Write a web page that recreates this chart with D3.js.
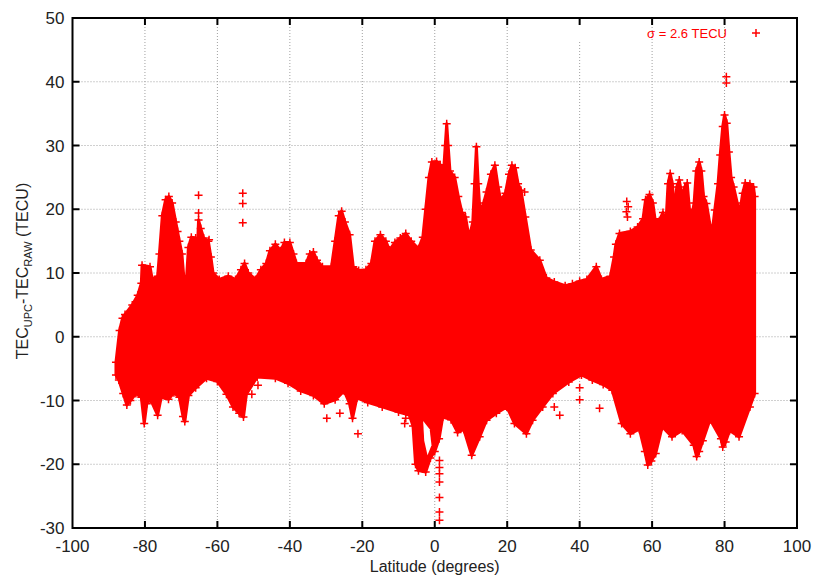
<!DOCTYPE html>
<html lang="en">
<head>
<meta charset="UTF-8">
<title>TEC UPC - TEC RAW vs latitude</title>
<script src="https://d3js.org/d3.v7.min.js"></script>
<style>
    body { margin: 0; background: #fff; }
    svg text { font-family: "Liberation Sans", Arial, Helvetica, sans-serif; }
</style>
</head>
<body>
<svg id="canvas" width="813" height="578"></svg>
<script>
// ---- data ----
const xTickValues = [-100, -80, -60, -40, -20, 0, 20, 40, 60, 80, 100];
const yTickValues = [-30, -20, -10, 0, 10, 20, 30, 40, 50];
const legendLabel = "\u03c3 = 2.6 TECU";

// upper edge of the dense cloud of points (latitude, TECU)
const upperLat = [-88.0, -87.0, -86.2, -85.5, -83.5, -82.0, -81.0, -80.8, -78.6, -78.0, -76.5, -76.0, -75.2, -74.3, -73.4,
    -72.5, -71.5, -71.0, -70.5, -69.8, -69.3, -68.5, -68.0, -67.2, -66.0, -65.5, -65.2, -64.6, -63.8, -62.5, -61.8, -61.2,
    -59.5, -57.0, -55.0, -53.5, -52.5, -51.5, -49.5, -48.0, -46.5, -45.5, -44.0, -42.5, -41.5, -40.0, -39.0, -38.2, -35.5,
    -34.5, -33.5, -32.5, -31.0, -28.5, -27.5, -26.5, -25.7, -24.8, -23.5, -22.5, -21.0, -19.0, -17.5, -16.5, -15.0, -13.5,
    -12.5, -11.0, -9.5, -8.0, -6.5, -4.5, -3.3, -2.5, -1.6, -0.8, 0.5, 1.5, 2.5, 2.9, 3.3, 3.7, 4.2, 5.5, 6.5, 7.5, 8.5,
    9.5, 10.5, 11.0, 11.5, 12.0, 12.5, 13.5, 14.3, 15.5, 16.6, 17.5, 18.2, 19.5, 20.5, 21.3, 22.2, 23.0, 23.8, 25.0, 26.5,
    29.0, 30.8, 33.0, 36.0, 38.0, 40.0, 42.0, 44.6, 46.0, 48.5, 49.5, 50.0, 51.0, 54.0, 56.0, 57.5, 58.2, 59.3, 60.2, 60.8,
    62.0, 63.0, 63.8, 64.4, 65.0, 65.6, 66.2, 66.8, 67.5, 68.3, 69.0, 69.7, 70.3, 71.0, 71.6, 72.2, 73.0, 73.6, 74.2, 75.0,
    76.0, 76.7, 77.3, 78.2, 78.8, 79.5, 80.0, 80.6, 81.2, 81.8, 82.5, 83.5, 84.2, 85.0, 85.7, 87.0, 88.0, 88.3];
const upperVal = [-4.0, 1.0, 2.9, 3.5, 5.0, 6.5, 8.4, 11.2, 11.0, 9.0, 9.5, 13.0, 19.0, 21.5, 22.0,
    21.0, 18.0, 16.5, 15.0, 13.0, 9.5, 9.3, 14.0, 15.6, 15.5, 14.0, 18.3, 17.0, 15.5, 15.0, 12.5, 10.0,
    9.0, 9.5, 9.0, 10.5, 11.5, 10.0, 9.0, 10.5, 11.5, 13.5, 14.5, 13.5, 14.8, 14.8, 13.0, 11.5, 11.5,
    13.0, 13.3, 12.0, 11.0, 11.0, 15.0, 19.0, 19.7, 18.0, 16.0, 11.0, 10.4, 10.5, 11.5, 15.0, 16.0, 15.0,
    13.6, 14.8, 15.5, 16.2, 15.0, 13.8, 15.6, 20.0, 25.0, 27.4, 27.5, 27.0, 26.5, 30.0, 33.4, 30.0, 26.0, 25.0, 22.0, 19.5, 18.8,
    15.5, 18.0, 24.0, 29.8, 24.0, 19.5, 21.0, 22.7, 25.5, 26.9, 23.5, 21.4, 22.5, 25.5, 26.9, 26.5, 24.0, 23.0, 18.8, 13.6,
    12.0, 9.2, 8.6, 8.0, 8.3, 8.7, 9.0, 11.0, 9.0, 9.5, 12.5, 14.5, 16.2, 16.5, 17.2, 18.5, 21.5, 22.3, 21.0, 18.5,
    18.2, 19.5, 17.5, 24.0, 25.6, 24.0, 19.5, 23.5, 24.6, 22.0, 23.5, 24.1, 20.0, 19.0, 21.0, 26.0, 27.4, 26.0, 22.0, 20.9,
    17.5, 17.0, 19.9, 24.0, 28.5, 33.0, 34.8, 33.5, 29.0, 25.0, 23.5, 21.0, 19.5, 22.5, 24.1, 24.0, 23.5, 22.0];

// lower edge of the cloud
const lowerLat = [-88.0, -87.2, -86.0, -85.0, -84.0, -82.5, -81.0, -80.2, -79.5, -78.5, -76.5, -75.5, -73.5, -72.0, -70.5,
    -69.5, -69.0, -68.0, -66.0, -63.0, -60.0, -57.5, -55.7, -54.0, -52.8, -52.0, -49.0, -44.0, -40.5, -37.0, -33.5, -30.5,
    -27.5, -25.0, -23.5, -22.7, -21.5, -18.5, -14.5, -10.0, -7.0, -6.0, -5.3, -4.5, -2.5, -1.2, 0.0, 1.2, 2.2, 4.5, 6.3,
    8.0, 10.2, 12.4, 14.3, 17.0, 19.9, 22.0, 25.3, 27.0, 29.8, 32.6, 37.0, 40.5, 43.5, 46.5, 49.0, 51.6, 54.0, 56.5, 58.0,
    58.8, 59.8, 61.0, 62.8, 65.5, 68.3, 71.5, 72.3, 73.0, 74.0, 76.0, 79.0, 79.5, 80.3, 81.4, 84.0, 87.0, 88.3];
const lowerVal = [-6.0, -6.8, -8.9, -10.7, -10.0, -8.9, -9.5, -13.6, -10.5, -9.8, -12.3, -9.5, -9.8, -8.8, -9.5,
    -12.5, -13.3, -9.2, -8.0, -6.5, -7.0, -9.0, -11.0, -12.0, -12.6, -9.0, -6.3, -6.5, -7.3, -8.5, -9.2, -10.5,
    -9.9, -8.5, -10.5, -12.8, -9.6, -10.3, -11.0, -11.8, -12.3, -14.0, -20.0, -21.0, -21.2, -19.0, -18.0, -16.0, -12.6, -13.0, -15.0,
    -14.5, -18.6, -15.7, -13.1, -12.0, -11.0, -13.6, -15.2, -13.1, -11.0, -8.9, -7.1, -6.0, -6.8, -7.5, -8.4, -13.6, -15.2, -14.5, -18.0,
    -20.1, -19.5, -18.3, -14.1, -15.7, -14.7, -17.0, -18.8, -18.0, -16.3, -13.0, -16.0, -17.3, -16.5, -14.7, -15.7, -11.0, -8.9];

// white gap inside the cloud near the equator
const holeLat = [-3.2, -1.4, -0.9, -2.0, -2.9];
const holeVal = [-13.2, -14.5, -17.0, -18.6, -16.3];

// isolated points outside the cloud
const outlierLat = [-65.2, -65.2, -62.3, -53.0, -53.0, -53.0, 24.8, 80.5, 80.5, 53.0, 53.4, 52.9, 53.2,
    -50.5, -48.8, -29.8, -26.2, -21.2, -8.3, -8.0,
    1.3, 1.3, 1.3, 1.3, 1.3, 1.3, 1.3, 33.0, 34.5, 40.0, 40.0, 45.5];
const outlierVal = [22.2, 19.4, 15.2, 22.5, 20.9, 17.9, 22.7, 40.8, 39.8, 21.2, 20.4, 19.6, 18.8,
    -9.0, -7.6, -12.8, -12.0, -15.2, -13.6, -12.8,
    -19.4, -20.5, -21.5, -22.8, -25.2, -27.5, -28.8, -11.0, -12.3, -8.0, -9.9, -11.2];

// ---- layout ----
const width = 813, height = 578;
const margin = {top: 18, right: 16, bottom: 50, left: 72.5};
const red = "#ff0000";

const svg = d3.select("#canvas");

const x = d3.scaleLinear().domain([-100, 100]).range([margin.left, width - margin.right]);
const y = d3.scaleLinear().domain([-30, 50]).range([height - margin.bottom, margin.top]);

// grid
const grid = svg.append("g").attr("stroke", "#a0a0a0").attr("stroke-width", 1).attr("stroke-dasharray", "1,2");
grid.selectAll("line.vx").data(xTickValues.slice(1, -1)).enter().append("line")
    .attr("x1", d => x(d)).attr("x2", d => x(d))
    .attr("y1", d => d === 40 ? 42 : y(50)).attr("y2", y(-30));
grid.selectAll("line.hy").data(yTickValues.slice(1, -1)).enter().append("line")
    .attr("x1", x(-100)).attr("x2", x(100))
    .attr("y1", d => y(d)).attr("y2", d => y(d));

// cloud of points
const pts = upperLat.map((d, i) => [d, upperVal[i]])
    .concat(lowerLat.map((d, i) => [d, lowerVal[i]]).reverse());
const line = d3.line().x(d => x(d[0])).y(d => y(d[1])).curve(d3.curveLinearClosed);
svg.append("path").attr("d", line(pts)).attr("fill", red).attr("stroke", red).attr("stroke-width", 3)
    .attr("stroke-linejoin", "round");

const hole = holeLat.map((d, i) => [d, holeVal[i]]);
svg.append("path").attr("d", line(hole)).attr("fill", "#fff");

// plus markers on the edges and outliers
const cross = "M-4,0H4M0,-4V4";
const markers = pts.concat(outlierLat.map((d, i) => [d, outlierVal[i]]));
svg.append("g").selectAll("path").data(markers).enter().append("path")
    .attr("d", cross)
    .attr("transform", d => `translate(${x(d[0])},${y(d[1])})`)
    .attr("stroke", red).attr("stroke-width", 1.5).attr("fill", "none");

// axes: border, ticks on all sides
const ax = svg.append("g");
const tickLen = 7;
ax.selectAll("line.bt").data(xTickValues.slice(1, -1)).enter().append("line")
    .attr("x1", d => x(d)).attr("x2", d => x(d))
    .attr("y1", y(-30)).attr("y2", y(-30) - tickLen);
ax.selectAll("line.tt").data(xTickValues.slice(1, -1)).enter().append("line")
    .attr("x1", d => x(d)).attr("x2", d => x(d))
    .attr("y1", y(50)).attr("y2", y(50) + tickLen);
ax.selectAll("line.lt").data(yTickValues.slice(1, -1)).enter().append("line")
    .attr("x1", x(-100)).attr("x2", x(-100) + tickLen)
    .attr("y1", d => y(d)).attr("y2", d => y(d));
ax.selectAll("line.rt").data(yTickValues.slice(1, -1)).enter().append("line")
    .attr("x1", x(100)).attr("x2", x(100) - tickLen)
    .attr("y1", d => y(d)).attr("y2", d => y(d));
ax.selectAll("line").attr("stroke", "#000").attr("stroke-width", 2);
ax.append("rect")
    .attr("x", x(-100)).attr("y", y(50))
    .attr("width", x(100) - x(-100)).attr("height", y(-30) - y(50))
    .attr("fill", "none").attr("stroke", "#000").attr("stroke-width", 2);

// tick labels
svg.append("g").selectAll("text").data(xTickValues).enter().append("text")
    .attr("x", d => x(d)).attr("y", y(-30) + 24)
    .attr("text-anchor", "middle").attr("font-size", 17).attr("fill", "#222")
    .text(d => d);
svg.append("g").selectAll("text").data(yTickValues).enter().append("text")
    .attr("x", x(-100) - 8).attr("y", d => y(d) + 6)
    .attr("text-anchor", "end").attr("font-size", 17).attr("fill", "#222")
    .text(d => d);

// axis titles
svg.append("text")
    .attr("x", x(0)).attr("y", 572)
    .attr("text-anchor", "middle").attr("font-size", 16).attr("fill", "#222")
    .text("Latitude (degrees)");

const yl = svg.append("text")
    .attr("transform", "translate(28,271) rotate(-90)")
    .attr("text-anchor", "middle").attr("font-size", 16).attr("fill", "#222");
yl.append("tspan").text("TEC");
yl.append("tspan").attr("font-size", 11).attr("dy", 4).text("UPC");
yl.append("tspan").attr("dy", -4).text("-TEC");
yl.append("tspan").attr("font-size", 11).attr("dy", 4).text("RAW");
yl.append("tspan").attr("dy", -4).text(" (TECU)");

// legend
svg.append("text")
    .attr("x", 727).attr("y", 38)
    .attr("text-anchor", "end").attr("font-size", 13).attr("fill", red)
    .text(legendLabel);
svg.append("path").attr("d", cross)
    .attr("transform", "translate(756,33)")
    .attr("stroke", red).attr("stroke-width", 1.5);
</script>
</body>
</html>
